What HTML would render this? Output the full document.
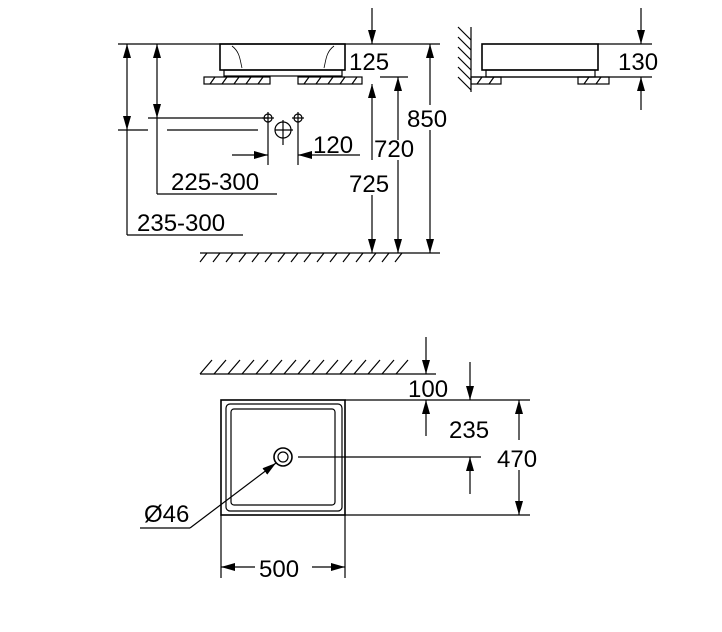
<!DOCTYPE html>
<html><head><style>body{margin:0;background:#fff}svg{display:block}text{font-family:"Liberation Sans",sans-serif;font-size:24px;fill:#000}</style></head><body>
<svg width="722" height="632" viewBox="0 0 722 632" xmlns="http://www.w3.org/2000/svg">
<defs>
<marker id="b" viewBox="0 0 14 8" refX="14" refY="4" markerWidth="14" markerHeight="8" markerUnits="userSpaceOnUse" orient="auto"><path d="M0,0 L14,4 L0,8Z" fill="#000"/></marker>
</defs>
<g stroke="#000" stroke-width="1.2" fill="none">
<line x1="118" y1="44" x2="440" y2="44"/>
<rect x="220" y="44" width="125" height="26" stroke-width="1.6"/>
<path d="M232,46c8,6 8,14 10,22M334,46c-8,6 -8,14 -10,22" stroke-width="0.8"/>
<rect x="224" y="70" width="118" height="6"/>
<rect x="204" y="77" width="66" height="7"/>
<rect x="298" y="77" width="64" height="7"/>
<path d="M210,84l5,-7M222,84l5,-7M234,84l5,-7M246,84l5,-7M258,84l5,-7M304,84l5,-7M316,84l5,-7M328,84l5,-7M340,84l5,-7M352,84l5,-7"/>
<line x1="380" y1="77" x2="408" y2="77"/>
<line x1="372" y1="8" x2="372" y2="44" marker-end="url(#b)"/>
<line x1="372" y1="160" x2="372" y2="84" marker-end="url(#b)"/>
<line x1="372" y1="195" x2="372" y2="253" marker-end="url(#b)"/>
<line x1="398" y1="140" x2="398" y2="77" marker-end="url(#b)"/>
<line x1="398" y1="160" x2="398" y2="253" marker-end="url(#b)"/>
<line x1="430" y1="105" x2="430" y2="44" marker-end="url(#b)"/>
<line x1="430" y1="130" x2="430" y2="253" marker-end="url(#b)"/>
<line x1="200" y1="253" x2="440" y2="253"/>
<path d="M200,262l7,-9M213,262l7,-9M226,262l7,-9M239,262l7,-9M252,262l7,-9M265,262l7,-9M278,262l7,-9M291,262l7,-9M304,262l7,-9M317,262l7,-9M330,262l7,-9M343,262l7,-9M356,262l7,-9M369,262l7,-9M382,262l7,-9M395,262l7,-9"/>
<line x1="127" y1="90" x2="127" y2="44" marker-end="url(#b)"/>
<line x1="127" y1="90" x2="127" y2="130" marker-end="url(#b)"/>
<line x1="127" y1="130" x2="127" y2="235"/><line x1="127" y1="235" x2="243" y2="235"/>
<line x1="118" y1="130" x2="148" y2="130"/><line x1="167" y1="130" x2="258" y2="130"/>
<line x1="157" y1="80" x2="157" y2="44" marker-end="url(#b)"/>
<line x1="157" y1="80" x2="157" y2="118" marker-end="url(#b)"/>
<line x1="157" y1="118" x2="157" y2="194"/><line x1="157" y1="194" x2="277" y2="194"/>
<line x1="148" y1="118" x2="268" y2="118"/>
<circle cx="268" cy="118" r="4"/><line x1="262" y1="118" x2="274" y2="118"/><line x1="268" y1="112" x2="268" y2="124"/>
<circle cx="298" cy="118" r="4"/><line x1="292" y1="118" x2="304" y2="118"/><line x1="298" y1="112" x2="298" y2="124"/>
<circle cx="283" cy="130" r="8"/><line x1="275" y1="130" x2="293" y2="130"/><line x1="283" y1="120" x2="283" y2="145"/>
<line x1="268" y1="124" x2="268" y2="165"/><line x1="298" y1="124" x2="298" y2="165"/>
<line x1="232" y1="155" x2="268" y2="155" marker-end="url(#b)"/>
<line x1="360" y1="155" x2="298" y2="155" marker-end="url(#b)"/>
<line x1="471" y1="27" x2="471" y2="92"/>
<path d="M458,37l13,13M458,47l13,13M458,57l13,13M458,67l13,13M458,77l13,13M458,27l13,13"/>
<rect x="482" y="44" width="116" height="26" stroke-width="1.6"/>
<rect x="486" y="70" width="109" height="7"/>
<line x1="471" y1="77" x2="652" y2="77"/>
<rect x="471" y="77" width="30" height="7"/><rect x="578" y="77" width="31" height="7"/>
<path d="M477,84l5,-7M489,84l5,-7M584,84l5,-7M596,84l5,-7"/>
<line x1="598" y1="44" x2="652" y2="44"/>
<line x1="641" y1="8" x2="641" y2="44" marker-end="url(#b)"/>
<line x1="641" y1="110" x2="641" y2="77" marker-end="url(#b)"/>
<line x1="200" y1="374" x2="436" y2="374"/>
<path d="M200,374l12,-14M214,374l12,-14M228,374l12,-14M242,374l12,-14M256,374l12,-14M270,374l12,-14M284,374l12,-14M298,374l12,-14M312,374l12,-14M326,374l12,-14M340,374l12,-14M354,374l12,-14M368,374l12,-14M382,374l12,-14M396,374l12,-14"/>
<line x1="426" y1="337" x2="426" y2="374" marker-end="url(#b)"/>
<line x1="426" y1="436" x2="426" y2="400" marker-end="url(#b)"/>
<rect x="221" y="400" width="124" height="115" stroke-width="1.6"/>
<rect x="226" y="404" width="116" height="107" rx="4"/>
<rect x="231" y="409" width="104" height="96" rx="3"/>
<circle cx="283" cy="457" r="9" stroke-width="1.6"/><circle cx="283" cy="457" r="5"/>
<line x1="298" y1="457" x2="481" y2="457"/>
<line x1="345" y1="400" x2="530" y2="400"/><line x1="345" y1="515" x2="530" y2="515"/>
<line x1="470" y1="362" x2="470" y2="400" marker-end="url(#b)"/>
<line x1="470" y1="494" x2="470" y2="457" marker-end="url(#b)"/>
<line x1="519" y1="440" x2="519" y2="400" marker-end="url(#b)"/>
<line x1="519" y1="470" x2="519" y2="515" marker-end="url(#b)"/>
<line x1="140" y1="528" x2="190" y2="528"/><line x1="190" y1="528" x2="276" y2="463" marker-end="url(#b)"/>
<line x1="221" y1="515" x2="221" y2="578"/><line x1="345" y1="515" x2="345" y2="578"/>
<line x1="255" y1="567" x2="221" y2="567" marker-end="url(#b)"/>
<line x1="312" y1="567" x2="345" y2="567" marker-end="url(#b)"/>
</g>
<text x="349" y="70">125</text>
<text x="407" y="127">850</text>
<text x="374" y="157">720</text>
<text x="349" y="192">725</text>
<text x="313" y="153">120</text>
<text x="171" y="190">225-300</text>
<text x="137" y="231">235-300</text>
<text x="618" y="70">130</text>
<text x="408" y="397">100</text>
<text x="449" y="438">235</text>
<text x="497" y="467">470</text>
<text x="144" y="522">Ø46</text>
<text x="259" y="577">500</text>
</svg>
</body></html>
